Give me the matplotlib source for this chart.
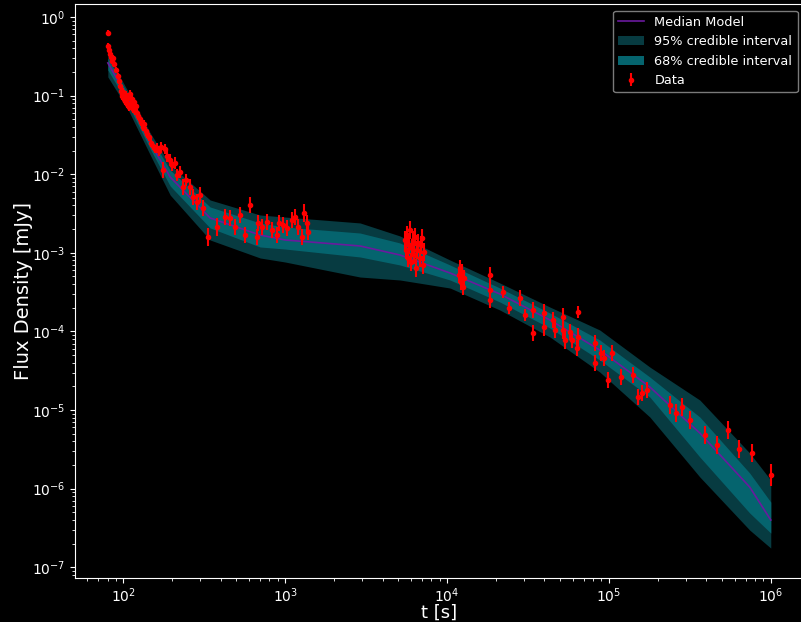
import numpy as np
import matplotlib
matplotlib.use("Agg")
import matplotlib.pyplot as plt

# model curve (log10 t, log10 flux)
model_logt = [1.905, 2.025, 2.167, 2.29, 2.537, 2.846, 3.0, 3.463, 3.71, 4.019,
              4.327, 4.636, 4.944, 5.253, 5.562, 5.87, 6.0]
median_log = [-0.585, -1.018, -1.603, -2.036, -2.557, -2.774, -2.837, -2.913, -3.028,
              -3.257, -3.524, -3.855, -4.237, -4.707, -5.293, -5.980, -6.399]
upper95_log = [-0.483, -0.929, -1.476, -1.883, -2.328, -2.519, -2.545, -2.620, -2.786,
               -3.092, -3.384, -3.690, -3.982, -4.453, -4.873, -5.547, -5.891]
upper68_log = [-0.522, -0.967, -1.527, -1.947, -2.417, -2.621, -2.672, -2.748, -2.875,
               -3.155, -3.448, -3.766, -4.109, -4.580, -5.089, -5.802, -6.171]
lower68_log = [-0.674, -1.094, -1.679, -2.150, -2.684, -2.926, -2.952, -3.053, -3.155,
               -3.346, -3.626, -3.957, -4.364, -4.835, -5.598, -6.310, -6.565]
lower95_log = [-0.763, -1.158, -1.756, -2.265, -2.837, -3.066, -3.117, -3.308, -3.346,
               -3.448, -3.728, -4.071, -4.517, -5.089, -5.852, -6.527, -6.756]

# observations (log10 t, log10 flux, log10 error)
data_logt = [1.907, 1.907, 1.914, 1.920, 1.926, 1.932, 1.938, 1.944, 1.957, 1.969,
             1.975, 1.981, 1.988, 1.994, 2.000, 2.006, 2.012, 2.019, 2.025, 2.031,
             2.037, 2.043, 2.049, 2.056, 2.062, 2.068, 2.074, 2.080, 2.086, 2.093,
             2.105, 2.111, 2.123, 2.130, 2.142, 2.148, 2.160, 2.173, 2.185, 2.198,
             2.210, 2.222, 2.235, 2.247, 2.259, 2.272, 2.290, 2.302, 2.321, 2.333,
             2.352, 2.370, 2.389, 2.414, 2.432, 2.457, 2.475, 2.494,
             2.525, 2.580, 2.630, 2.660, 2.691, 2.722, 2.753, 2.784, 2.827, 2.833,
             2.858, 2.889, 2.920, 2.951, 2.963, 2.988, 3.012, 3.043, 3.062, 3.080,
             3.105, 3.117, 3.136, 3.142,
             3.741, 3.747, 3.753, 3.759, 3.765, 3.772, 3.778, 3.784, 3.790, 3.796,
             3.802, 3.809, 3.815, 3.821, 3.833, 3.840, 3.846, 3.852, 3.858,
             4.074, 4.080, 4.086, 4.093, 4.099, 4.105,
             4.265, 4.265, 4.268, 4.346, 4.383, 4.451, 4.481, 4.531, 4.531, 4.599,
             4.599, 4.654, 4.667, 4.716, 4.716, 4.728, 4.759, 4.772, 4.809, 4.809,
             4.802, 4.914, 4.914, 4.951, 4.969, 4.994, 5.019, 5.074, 5.148, 5.179,
             5.204, 5.235, 5.377, 5.414, 5.451, 5.500, 5.593, 5.667, 5.735, 5.802,
             5.883, 6.000]
data_logf = [-0.204, -0.369, -0.420, -0.471, -0.509, -0.560, -0.522, -0.598, -0.674, -0.751,
             -0.814, -0.878, -0.941, -1.005, -0.954, -1.043, -1.069, -0.992, -1.107, -1.031,
             -1.145, -0.980, -1.094, -1.043, -1.170, -1.081, -1.196, -1.132, -1.221, -1.260,
             -1.298, -1.336, -1.399, -1.361, -1.450, -1.489, -1.527, -1.603, -1.641, -1.679,
             -1.667, -1.705, -1.654, -1.947, -1.679, -1.768, -1.819, -1.883, -1.858, -2.010,
             -1.972, -2.163, -2.074, -2.163, -2.290, -2.354, -2.265, -2.430,
             -2.799, -2.672, -2.545, -2.557, -2.672, -2.519, -2.774, -2.392, -2.799, -2.621,
             -2.672, -2.608, -2.710, -2.774, -2.621, -2.646, -2.684, -2.583, -2.545, -2.672,
             -2.799, -2.494, -2.621, -2.735,
             -2.837, -2.964, -2.774, -3.066, -2.901, -2.710, -3.117, -2.939, -2.837, -3.028,
             -2.799, -3.193, -2.964, -2.875, -3.066, -2.901, -2.812, -3.155, -2.990,
             -3.282, -3.193, -3.372, -3.244, -3.435, -3.321,
             -3.282, -3.473, -3.601, -3.499, -3.702, -3.575, -3.791, -3.728, -4.020, -3.766,
             -3.944, -3.855, -3.982, -3.817, -3.982, -4.109, -4.008, -4.109, -3.753, -4.071,
             -4.211, -4.148, -4.402, -4.275, -4.338, -4.618, -4.275, -4.580, -4.555, -4.835,
             -4.784, -4.746, -4.936, -5.038, -4.962, -5.127, -5.318, -5.445, -5.254, -5.496,
             -5.547, -5.827]
data_logerr = [0.04, 0.04, 0.04, 0.04, 0.04, 0.04, 0.04, 0.04, 0.04, 0.04,
               0.04, 0.04, 0.05, 0.05, 0.05, 0.05, 0.05, 0.05, 0.05, 0.05,
               0.05, 0.05, 0.05, 0.05, 0.05, 0.05, 0.05, 0.05, 0.05, 0.05,
               0.05, 0.05, 0.05, 0.05, 0.05, 0.05, 0.05, 0.05, 0.05, 0.05,
               0.06, 0.06, 0.06, 0.10, 0.06, 0.08, 0.08, 0.08, 0.08, 0.08,
               0.08, 0.10, 0.08, 0.10, 0.10, 0.10, 0.10, 0.10,
               0.12, 0.12, 0.10, 0.10, 0.10, 0.10, 0.10, 0.10, 0.10, 0.10,
               0.10, 0.10, 0.10, 0.10, 0.10, 0.10, 0.10, 0.10, 0.10, 0.10,
               0.10, 0.12, 0.10, 0.10,
               0.12, 0.12, 0.12, 0.12, 0.12, 0.12, 0.12, 0.12, 0.12, 0.12,
               0.12, 0.12, 0.12, 0.12, 0.12, 0.12, 0.12, 0.12, 0.12,
               0.10, 0.10, 0.10, 0.10, 0.10, 0.10,
               0.10, 0.10, 0.10, 0.08, 0.08, 0.10, 0.08, 0.10, 0.10, 0.12,
               0.12, 0.10, 0.10, 0.12, 0.12, 0.12, 0.10, 0.10, 0.08, 0.12,
               0.10, 0.10, 0.10, 0.10, 0.10, 0.10, 0.10, 0.10, 0.10, 0.10,
               0.10, 0.10, 0.12, 0.12, 0.12, 0.12, 0.12, 0.12, 0.12, 0.12,
               0.12, 0.14]

plt.style.use("dark_background")
fig = plt.figure(figsize=(8.01, 6.22), dpi=100)
# axes runs slightly past the right edge of the picture, as in the original crop
ax = fig.add_axes([0.0936, 0.0707, 0.9101, 0.9228])

t_model = 10 ** np.array(model_logt)
ax.fill_between(t_model, 10 ** np.array(lower95_log), 10 ** np.array(upper95_log),
                color="#073b41", lw=0, label="95% credible interval")
ax.fill_between(t_model, 10 ** np.array(lower68_log), 10 ** np.array(upper68_log),
                color="#05646e", lw=0, label="68% credible interval")
ax.plot(t_model, 10 ** np.array(median_log), color="#6a1a9e", lw=1.2, label="Median Model")

t_data = 10 ** np.array(data_logt)
f_data = 10 ** np.array(data_logf)
e = np.array(data_logerr)
yerr = [f_data - f_data * 10 ** (-e), f_data * 10 ** e - f_data]
ax.errorbar(t_data, f_data, yerr=yerr, fmt="o", color="red", ms=3, elinewidth=1.5,
            capsize=0, label="Data")

ax.set_xscale("log")
ax.set_yscale("log")
ax.set_xlim(10 ** 1.702, 10 ** 6.205)
ax.set_ylim(7.3e-8, 1.46)
ax.tick_params(axis="x", pad=2.5)
ax.set_xlabel("t [s]", fontsize=13, labelpad=-1)
ax.set_ylabel("Flux Density [mJy]", fontsize=14, labelpad=-1)

h, l = ax.get_legend_handles_labels()
order = [l.index("Median Model"), l.index("95% credible interval"),
         l.index("68% credible interval"), l.index("Data")]
ax.legend([h[i] for i in order], [l[i] for i in order], loc="upper right", fontsize=9.3,
          facecolor="black", edgecolor="0.6")

fig.savefig("out.png", dpi=100, facecolor="black")
